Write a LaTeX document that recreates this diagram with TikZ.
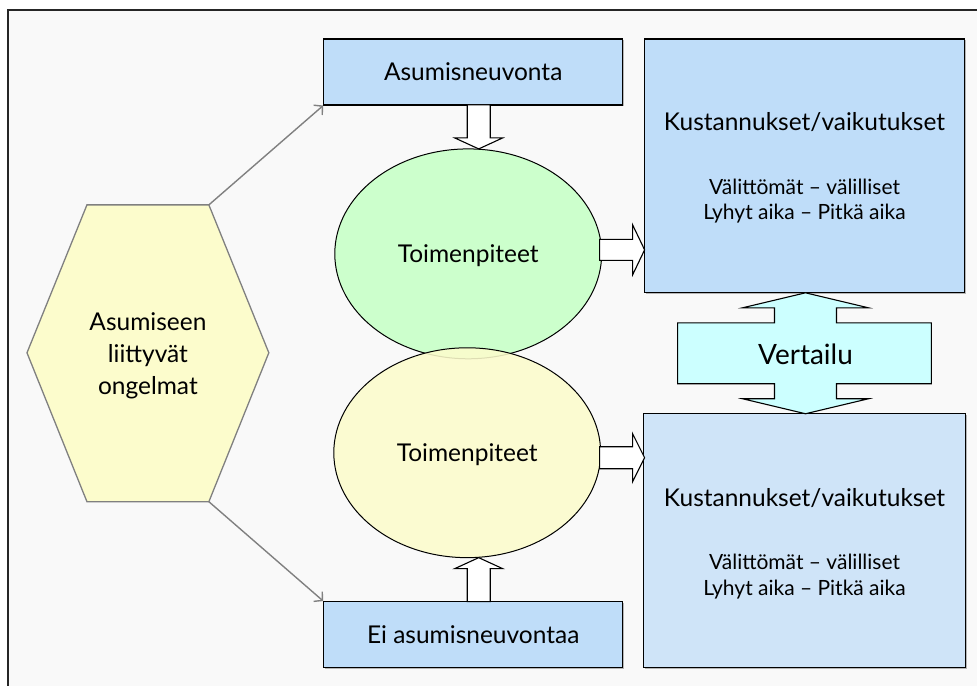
\documentclass[tikz,border=0pt]{standalone}
\usepackage{fontspec}
\setmainfont{Lato}
\usetikzlibrary{arrows.meta,shapes.geometric,shadows}

\definecolor{pagebg}{HTML}{F9F9F9}
\definecolor{boxblue}{HTML}{BFDDF9}
\definecolor{boxblue2}{HTML}{CFE4F8}
\definecolor{mintfill}{HTML}{CCFFCC}
\definecolor{creamfill}{HTML}{FCFCCC}
\definecolor{cyanfill}{HTML}{CCFFFF}
\definecolor{linkgray}{HTML}{808080}

\tikzset{
  bigtext/.style={font=\fontsize{24.5}{28}\selectfont, inner sep=0pt},
  smalltext/.style={font=\fontsize{21}{24}\selectfont, inner sep=0pt},
  panel/.style={draw=black, line width=1.2pt, inner sep=0pt,
    drop shadow={shadow xshift=1.2pt, shadow yshift=-1.2pt, opacity=0.45, fill=black!60}},
  oval/.style={ellipse, draw=black, line width=1pt, inner sep=0pt,
    minimum width=267pt, minimum height=210pt},
  hollow/.style={draw=black, line width=1.1pt, fill=white},
  link/.style={draw=linkgray, line width=1.4pt,
    -{Straight Barb[length=6pt,width=13pt,line width=1.4pt]}},
}

% block arrow: shift point, rotation, total length, half shaft, half head, head length
\newcommand{\blockarrow}[6]{%
  \draw[hollow, shift={#1}, rotate=#2]
    (0,-#4) -- ({#3-#6},-#4) -- ({#3-#6},-#5) -- (#3,0)
    -- ({#3-#6},#5) -- ({#3-#6},#4) -- (0,#4) -- cycle;}

\begin{document}
\begin{tikzpicture}[x=1pt, y=-1pt]
  % page and frame
  \fill[white] (0,0) rectangle (978,686);
  \fill[pagebg] (8,10) rectangle (978,686);
  \draw[black!85, line width=1.2pt] (8,686) -- (8,10) -- (978,10);
  \useasboundingbox (0,0) rectangle (978,686);

  % hexagon with the problem statement
  \coordinate (hexTL) at (87,205);
  \coordinate (hexTR) at (209,205);
  \coordinate (hexR)  at (269,353);
  \coordinate (hexBR) at (209,502);
  \coordinate (hexBL) at (87,502);
  \coordinate (hexL)  at (27,353);
  \draw[fill=creamfill, draw=linkgray, line width=1.3pt]
    (hexTL) -- (hexTR) -- (hexR) -- (hexBR) -- (hexBL) -- (hexL) -- cycle;
  \node[inner sep=0pt, align=center, font=\fontsize{24.5}{32}\selectfont] (problem) at (148,356)
    {Asumiseen\\liittyvät\\ongelmat};

  % left column boxes
  \node[panel, fill=boxblue, minimum width=299pt, minimum height=66pt] (adv) at (473.5,72) {};
  \node[bigtext] (advtext) at (adv.center) {Asumisneuvonta};
  \node[panel, fill=boxblue, minimum width=299pt, minimum height=66pt] (noadv) at (473.5,635) {};
  \node[bigtext] (noadvtext) at (noadv.center) {Ei asumisneuvontaa};

  % measures
  \node[oval, fill=mintfill] (actA) at (468.5,254) {};
  \node[bigtext] (actAtext) at (468.5,256) {Toimenpiteet};
  \node[oval, fill=creamfill, fill opacity=0.88] (actB) at (467.5,453) {};
  \node[bigtext] (actBtext) at (467.5,455) {Toimenpiteet};

  % cost panels
  \node[panel, fill=boxblue, minimum width=320pt, minimum height=254pt] (costA) at (805,166) {};
  \node[bigtext] (costAtitle) at (805,122) {Kustannukset/vaikutukset};
  \node[smalltext] (costAline1) at (805,187) {Välittömät – välilliset};
  \node[smalltext] (costAline2) at (805,214) {Lyhyt aika – Pitkä aika};

  \node[panel, fill=boxblue2, minimum width=322pt, minimum height=254pt] (costB) at (805,541) {};
  \node[bigtext] (costBtitle) at (805,498) {Kustannukset/vaikutukset};
  \node[smalltext] (costBline1) at (805,562) {Välittömät – välilliset};
  \node[smalltext] (costBline2) at (805,590) {Lyhyt aika – Pitkä aika};

  % links from the problem to both alternatives
  \draw[link] (hexTR) -- (adv.south west);
  \draw[link] (hexBR) -- (noadv.north west);

  % block arrows
  \blockarrow{(479,105)}{-90}{44}{11.5}{24}{11}
  \blockarrow{(479,602)}{90}{44}{11.5}{24}{11}
  \blockarrow{(600,250)}{0}{45}{10.5}{25}{12}
  \blockarrow{(600,458)}{0}{45}{11}{24}{12}

  % comparison double arrow
  \draw[hollow, fill=cyanfill]
    (806,293) -- (869,308) -- (837,308) -- (837,323) -- (932,323) -- (932,384)
    -- (837,384) -- (837,399) -- (869,399) -- (806,414) -- (743,399) -- (775,399)
    -- (775,384) -- (678,384) -- (678,323) -- (775,323) -- (775,308) -- (743,308) -- cycle;
  \node[font=\fontsize{28}{32}\selectfont, inner sep=0pt] (compare) at (806,355) {Vertailu};
\end{tikzpicture}
\end{document}
